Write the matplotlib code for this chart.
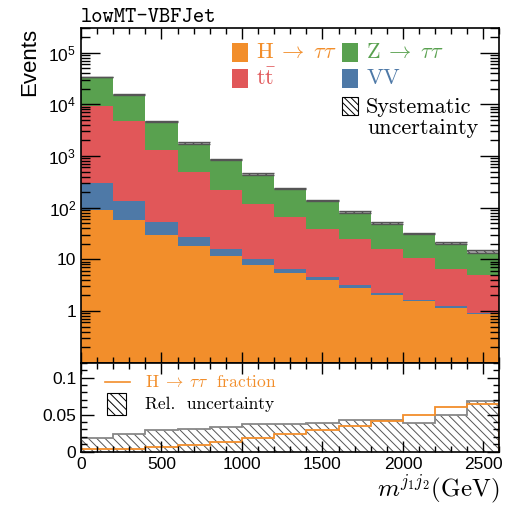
import matplotlib
matplotlib.use("Agg")
import matplotlib.pyplot as plt
import numpy as np
from matplotlib.patches import Rectangle
from matplotlib.lines import Line2D
from matplotlib.ticker import FuncFormatter, MultipleLocator, LogLocator

#
# lowMT-VBFJet: stacked m_jj distribution with H->tautau fraction panel
#

edges = np.arange(0, 2601, 200)

h_tautau = np.array([89, 57, 29.6, 17.8, 11.6, 7.9, 5.4, 3.9, 2.83, 2.07, 1.54, 1.16, 0.86])
vv = np.array([216, 77, 24.4, 9.7, 4.0, 2.1, 1.2, 0.6, 0.31, 0.16, 0.09, 0.09, 0.05])
ttbar = np.array([8995, 4616, 1246, 471, 204, 109, 60, 34.5, 21.3, 13.4, 8.8, 5.15, 4.15])
z_tautau = np.array([24400, 11050, 3400, 1301, 631, 324, 170, 99, 56.6, 34.4, 21.4, 14.2, 9.24])

rel_unc = np.array([0.0186, 0.024, 0.0286, 0.030, 0.0327, 0.0367, 0.0367, 0.039, 0.043, 0.043, 0.039, 0.050, 0.068])
h_frac = np.array([0.003, 0.003, 0.0057, 0.0093, 0.013, 0.018, 0.0234, 0.029, 0.035, 0.042, 0.0497, 0.060, 0.064])

orange, red, green, blue = "#f28e2b", "#e15759", "#59a14f", "#4e79a7"

plt.rcParams["font.family"] = ["Liberation Sans", "DejaVu Sans"]
plt.rcParams["mathtext.fontset"] = "cm"
plt.rcParams["axes.linewidth"] = 1.2
plt.rcParams["hatch.linewidth"] = 0.7

W, H = 513, 507
fig = plt.figure(figsize=(W / 100, H / 100), dpi=100)
ax = fig.add_axes([81 / W, 1 - 362.7 / H, 418.5 / W, 334.7 / H])
rax = fig.add_axes([81 / W, 1 - 451.7 / H, 418.5 / W, 89 / H], sharex=ax)

# stack, bottom to top
bottom = np.zeros(len(h_tautau))
for vals, col in [(h_tautau, orange), (vv, blue), (ttbar, red), (z_tautau, green)]:
    ax.stairs(bottom + vals, edges, baseline=bottom.copy(), fill=True, color=col, lw=0)
    bottom = bottom + vals
total = bottom

# systematic band on top of the stack (horizontal pieces only)
ax.stairs(total * (1 + rel_unc), edges, baseline=total * (1 - rel_unc), fill=True,
          facecolor="#aaaaaa", edgecolor="#444444", hatch="\\" * 4, lw=0)
ax.hlines(total * (1 + rel_unc), edges[:-1], edges[1:], color="#555555", lw=1.0)
ax.hlines(total * (1 - rel_unc), edges[:-1], edges[1:], color="#555555", lw=1.0)

ax.set_yscale("log")
ax.set_ylim(0.1, 3e5)
ax.set_xlim(0, 2600)


def logfmt(v, pos):
    if v < 1:
        return ""
    if v < 50:
        return "%d" % round(v)
    return r"$\mathregular{10^{%d}}$" % round(np.log10(v))


ax.yaxis.set_major_locator(LogLocator(base=10, numticks=20))
ax.yaxis.set_minor_locator(LogLocator(base=10, subs=np.arange(2, 10), numticks=20))
ax.yaxis.set_major_formatter(FuncFormatter(logfmt))
ax.set_ylabel("Events", loc="top", fontsize=16, labelpad=6)
ax.tick_params(labelbottom=False)

# ratio panel
rax.stairs(rel_unc, edges, baseline=0, fill=True, facecolor="none",
           edgecolor="#555555", hatch="\\" * 4, lw=0)
rax.stairs(rel_unc, edges, color="#888888", lw=1.3)
rax.stairs(h_frac, edges, color=orange, lw=1.3)
rax.set_ylim(0, 0.12)
rax.yaxis.set_major_locator(MultipleLocator(0.05))
rax.yaxis.set_minor_locator(MultipleLocator(0.01))
rax.yaxis.set_major_formatter(FuncFormatter(lambda v, p: "%g" % round(v, 3)))
rax.xaxis.set_major_locator(MultipleLocator(500))
rax.xaxis.set_minor_locator(MultipleLocator(100))
rax.set_xlabel(r"$m^{j_1 j_2}(\mathrm{GeV})$", loc="right", fontsize=18, labelpad=1)

for a in (ax, rax):
    a.tick_params(which="both", direction="in", top=True, right=True, labelsize=12.5, width=1)
    a.tick_params(axis="x", which="major", length=8)
    a.tick_params(axis="x", which="minor", length=4)
ax.tick_params(axis="y", which="major", length=14)
ax.tick_params(axis="y", which="minor", length=6.5)
rax.tick_params(axis="y", which="major", length=9)
rax.tick_params(axis="y", which="minor", length=4.5)

fig.text(81 / W, 1 - 22 / H, "lowMT-VBFJet", family="cmtt10", fontsize=15.5, va="baseline")


def px(x, y):
    return x / W, 1 - y / H


def square(x0, y0, x1, y1, **kw):
    fig.add_artist(Rectangle(px(x0, y1), (x1 - x0) / W, (y1 - y0) / H,
                             transform=fig.transFigure, **kw))


legtxt = dict(family="cmr10", fontsize=16, va="center")
entries = [
    (232, 43, r"$\mathrm{H}\;\rightarrow\;\tau\tau$", orange),
    (232, 69, r"$\mathrm{t\bar{t}}$", red),
    (342, 43, r"$\mathrm{Z}\;\rightarrow\;\tau\tau$", green),
    (342, 69, r"$\mathrm{VV}$", blue),
]
for x0, y0, lab, col in entries:
    square(x0, y0, x0 + 16, y0 + 19, facecolor=col, edgecolor="none")
    fig.text(*px(x0 + 24, y0 + 9.5), lab, color=col, **legtxt)
square(342, 97, 358, 115.5, facecolor="white", edgecolor="black", hatch="\\" * 5, lw=0.8)
fig.text(*px(366, 107), "Systematic", **legtxt)
fig.text(*px(367, 128), "uncertainty", **legtxt)

# ratio legend
fig.add_artist(Line2D([105 / W, 130 / W], [1 - 381.7 / H] * 2, color=orange, lw=1.2,
                      transform=fig.transFigure))
fig.text(*px(145, 381.7), r"$\mathrm{H}\;\rightarrow\;\tau\tau$  fraction", color=orange,
         family="cmr10", fontsize=12.5, va="center")
square(107, 393, 126, 415, facecolor="white", edgecolor="black", hatch="\\" * 4, lw=0.8)
fig.text(*px(145, 404), "Rel.  uncertainty", family="cmr10", fontsize=12.5, va="center")

fig.savefig("out.png", dpi=100)
